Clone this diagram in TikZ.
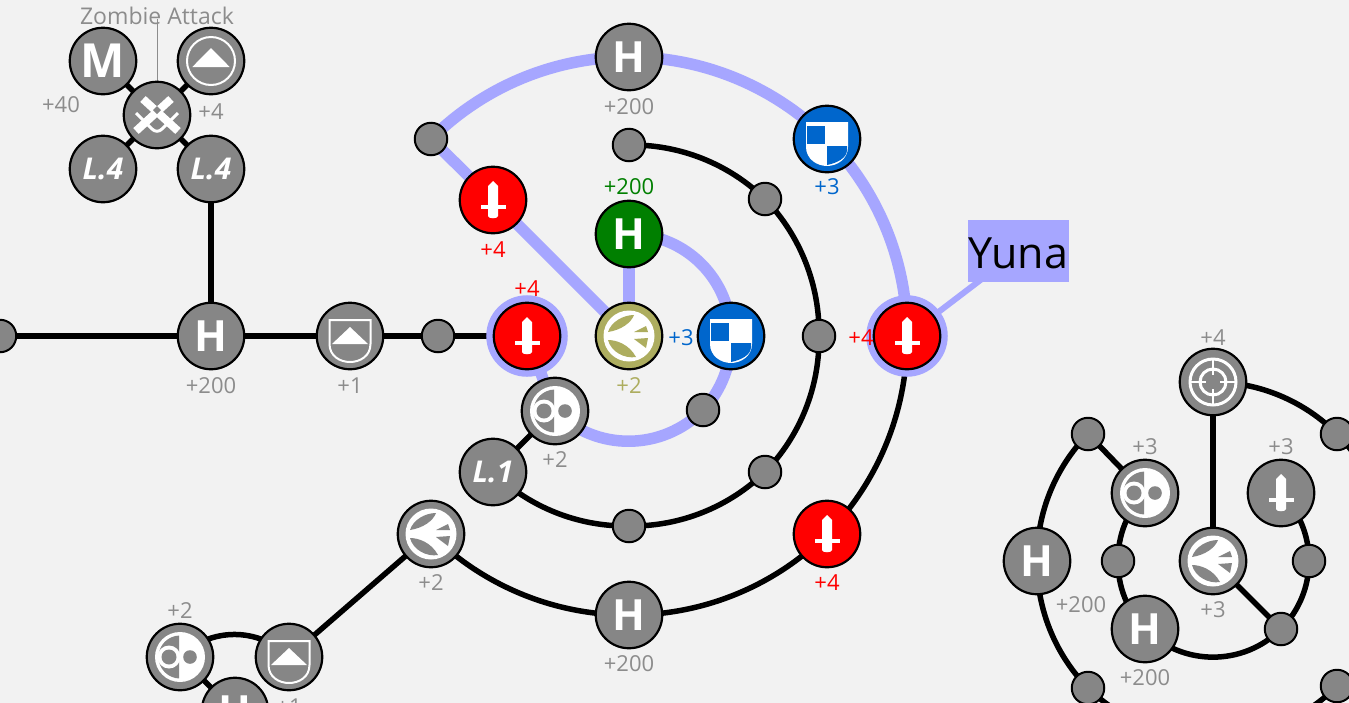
\documentclass[tikz,border=0pt]{standalone}
\usepackage{fontspec}
\setmainfont{Open Sans}
\usetikzlibrary{backgrounds}
\definecolor{bgc}{HTML}{F2F2F2}
\definecolor{nodeg}{HTML}{868686}
\definecolor{halo}{HTML}{A6A6FF}
\definecolor{cred}{HTML}{FF0000}
\definecolor{cgreen}{HTML}{007F00}
\definecolor{colive}{HTML}{ADAD5F}
\definecolor{cblue}{HTML}{0066CC}
\definecolor{lgray}{HTML}{8C8C8C}
\tikzset{
  big/.style={circle,draw=black,line width=2.2pt,fill=nodeg,inner sep=0pt,outer sep=0pt,minimum size=66.5pt,text=white},
  tiny/.style={circle,draw=black,line width=2pt,fill=nodeg,inner sep=0pt,outer sep=0pt,minimum size=32.5pt},
  ringed/.style={preaction={draw=halo,line width=15pt}},
  lab/.style={inner sep=0pt,font=\fontsize{22}{24}\selectfont,text=lgray},
  letter/.style={font=\fontsize{43}{43}\selectfont\bfseries},
  lev/.style={font=\fontsize{30}{30}\selectfont\bfseries\itshape},
  conn/.style={line width=5.5pt,draw=black},
  path2/.style={line width=11.5pt,draw=halo},
  q45/.style={bend left=22.5,looseness=.885},
  q90/.style={bend left=45},
  pics/sword/.style={code={
    \fill[white] (-5,-14) -- (0,-19) -- (5,-14) -- (5,16) .. controls (5,19) and (-5,19) .. (-5,16) -- cycle;
    \fill[white] (-12.5,5) rectangle (12.5,9);
  }},
  pics/quart/.style={code={
    \fill[white] (-21,-17) -- (21,-17) -- (21,8) .. controls (21,20) and (10,27) .. (0,27) .. controls (-10,27) and (-21,20) .. (-21,8) -- cycle;
    \fill[cblue] (-20,-13) rectangle (-2,5);
    \fill[cblue] (0,7) -- (20,7) -- (20,11) .. controls (20,19) and (10,24) .. (0,26) -- cycle;
  }},
  pics/shieldup/.style={code={
    \draw[white,line width=2pt] (-20.5,-16) -- (20.5,-16) -- (20.5,8) .. controls (20.5,20) and (10,26) .. (0,26) .. controls (-10,26) and (-20.5,20) .. (-20.5,8) -- cycle;
    \fill[white] (0,-9) -- (18,8) -- (-18,8) -- cycle;
  }},
  pics/ringup/.style={code={
    \draw[white,line width=2pt] (0,0) circle[radius=24];
    \fill[white] (0,-13) -- (18.7,6) -- (-18.7,6) -- cycle;
  }},
  pics/xswords/.style={code={
    \draw[white,line width=8pt] (-14,-16) -- (21,16);
    \draw[white,line width=8pt] (14,-16) -- (-21,16);
    \draw[white,line width=3pt] (-21,-2) -- (-5,14) .. controls (-2,17) and (2,17) .. (5,14) -- (21,-2);
    \fill[nodeg] (0,-9) -- (4,-5) -- (0,-1) -- (-4,-5) -- cycle;
    \fill[nodeg] (0,3) -- (4,7) -- (0,11) -- (-4,7) -- cycle;
  }},
  pics/swirl/.style={code={
    \fill[white] (0,0) circle[radius=25];
    \begin{scope}
      \clip (-30,-30) rectangle (-1,30);
      \fill[nodeg] (0,0) circle[radius=21.5];
    \end{scope}
    \fill[white] (-11,0) circle[radius=11.5];
    \fill[nodeg] (-11,0) circle[radius=7.5];
    \fill[nodeg] (10,0) circle[radius=6.8];
  }},
  pics/feather/.style={code={
    \fill[white] (0,0) circle[radius=25.5];
    \fill[#1] (-21,-4) .. controls (-18,-14) and (-6,-21) .. (5,-21) .. controls (2,-13) and (-8,-6) .. cycle;
    \fill[#1] (-21,4) .. controls (-13,4) and (0,8) .. (7,21) .. controls (-4,23) and (-18,16) .. cycle;
    \fill[#1] (5,-4) -- (17,-10) -- (19,-4) -- cycle;
    \fill[#1] (5,3) -- (19,2) -- (17,12) -- cycle;
  }},
  pics/target/.style={code={
    \draw[white,line width=3pt] (0,0) circle[radius=23];
    \draw[white,line width=3pt] (0,0) circle[radius=13];
    \draw[white,line width=2pt] (0,-24) -- (0,-7) (0,7) -- (0,24) (-24,0) -- (-7,0) (7,0) -- (24,0);
  }}
}
\begin{document}
\begin{tikzpicture}[x=1pt,y=-1pt]
\useasboundingbox (0,0) rectangle (1349,702);

% --- top-left cluster
\node[big,font=\fontsize{47}{47}\selectfont\bfseries] (m) at (103,61) {M};
\node[big] (ru) at (211,61) {};
\node[big] (xs) at (157,115) {};
\node[big,lev] (l4a) at (103,169) {L.4};
\node[big,lev] (l4b) at (211,169) {L.4};
\node[lab,font=\fontsize{23}{25}\selectfont] (zt) at (157,16) {Zombie Attack};
\coordinate (ztip) at (157,19);
\node[lab] (t40) at (61,105) {+40};
\node[lab] (t4a) at (211,112) {+4};

% --- main row
\node[tiny] (s0) at (0,336) {};
\node[big,letter] (h1) at (211,336) {H};
\node[big] (su1) at (350,336) {};
\node[tiny] (s1) at (438,336) {};
\node[big,fill=cred,ringed] (r1) at (527,336) {};
\node[big,fill=colive] (ol) at (629,336) {};
\node[big,fill=cblue] (b1) at (731,336) {};
\node[big,letter,fill=cgreen] (hg) at (629,234) {H};
\node[big,fill=cred] (r2) at (493,200) {};
\node[tiny] (s2) at (431,139) {};
\node[big,letter] (h2) at (629,57) {H};
\node[big,fill=cblue] (b2) at (827,139) {};
\node[big,fill=cred,ringed] (r3) at (907,336) {};
\node[fill=halo,inner sep=0pt,minimum width=101pt,minimum height=62pt,text height=34pt,text depth=0pt,font=\fontsize{43}{43}\selectfont] (yuna) at (1018.5,251) {Yuna};

% --- black ring
\node[tiny] (a1) at (629,145) {};
\node[tiny] (a2) at (765,199) {};
\node[tiny] (a3) at (819,336) {};
\node[tiny] (a4) at (765,472) {};
\node[tiny] (a5) at (629,526) {};
\node[big,lev] (l1) at (493,472) {L.1};
\node[big] (sw1) at (555,411) {};
\node[tiny] (a6) at (703,410) {};

% --- outer lower ring
\node[big,fill=cred] (r4) at (827,534) {};
\node[big,letter] (h3) at (629,615) {H};
\node[big] (fe1) at (431,534) {};
\node[big] (su2) at (289,657) {};
\node[big] (sw2) at (180,657) {};
\node[big,letter] (h4) at (235,711) {H};

% --- right cluster
\node[big] (tg) at (1213,382) {};
\node[tiny] (c1) at (1337,434) {};
\node[tiny] (c2) at (1088,434) {};
\node[big] (sw3) at (1145,493) {};
\node[big] (sd) at (1281,493) {};
\node[big,letter] (h5) at (1037,561) {H};
\node[tiny] (c3) at (1118,561) {};
\node[big] (fe2) at (1213,561) {};
\node[tiny] (c4) at (1309,561) {};
\node[big,letter] (h6) at (1145,629) {H};
\node[tiny] (c5) at (1281,629) {};
\node[tiny] (c6) at (1088,688) {};
\node[tiny] (c7) at (1337,686) {};
\coordinate (offR) at (1389,561);
\coordinate (offB) at (1213,738);

% --- icons
\pic at (ru) {ringup};
\pic at (xs) {xswords};
\pic at (su1) {shieldup};
\pic at (su2) {shieldup};
\pic at (r1) {sword};
\pic at (r2) {sword};
\pic at (r3) {sword};
\pic at (r4) {sword};
\pic at (sd) {sword};
\pic at (b1) {quart};
\pic at (b2) {quart};
\pic at (ol) {feather=colive};
\pic at (fe1) {feather=nodeg};
\pic at (fe2) {feather=nodeg};
\pic at (sw1) {swirl};
\pic at (sw2) {swirl};
\pic at (sw3) {swirl};
\pic at (tg) {target};

% --- value labels
\node[lab] (t1) at (211,386) {+200};
\node[lab] (t2) at (350,386) {+1};
\node[lab,text=cred] (t3) at (527,289) {+4};
\node[lab,text=colive] (t4) at (629,386) {+2};
\node[lab,text=cblue] (t5) at (681,338) {+3};
\node[lab,text=cgreen] (t6) at (629,187) {+200};
\node[lab,text=cred] (t7) at (493,250) {+4};
\node[lab] (t8) at (629,107) {+200};
\node[lab,text=cblue] (t9) at (827,187) {+3};
\node[lab,text=cred] (t10) at (861,338) {+4};
\node[lab] (t11) at (555,460) {+2};
\node[lab,text=cred] (t12) at (827,583) {+4};
\node[lab] (t13) at (629,664) {+200};
\node[lab] (t14) at (431,583) {+2};
\node[lab] (t15) at (289,707) {+1};
\node[lab] (t16) at (180,611) {+2};
\node[lab] (t17) at (1213,338) {+4};
\node[lab] (t18) at (1145,447) {+3};
\node[lab] (t19) at (1281,447) {+3};
\node[lab] (t20) at (1081,605) {+200};
\node[lab] (t21) at (1213,610) {+3};
\node[lab] (t22) at (1145,678) {+200};

\begin{scope}[on background layer]
  \fill[bgc] (-30,-30) rectangle (1400,760);
  % label leader
  \draw[lgray,line width=1pt] (ztip) -- (xs.center);
  \draw[halo,line width=6pt] (r3.center) -- (yuna.center);
  % blue path
  \draw[path2] (s2.center) to[q45] (h2.center);
  \draw[path2] (h2.center) to[q45] (b2.center);
  \draw[path2] (b2.center) to[q45] (r3.center);
  \draw[path2] (s2.center) -- (r2.center);
  \draw[path2] (r2.center) -- (ol.center);
  \draw[path2] (ol.center) -- (hg.center);
  \draw[path2] (hg.center) to[q90] (b1.center);
  \draw[path2] (b1.center) to[q45] (a6.center);
  \draw[path2] (a6.center) to[q90] (sw1.center);
  \draw[path2] (r1.center) -- (sw1.center);
  % black connectors
  \draw[conn] (s0.center) -- (h1.center);
  \draw[conn] (h1.center) -- (su1.center);
  \draw[conn] (su1.center) -- (s1.center);
  \draw[conn] (s1.center) -- (r1.center);
  \draw[conn] (h1.center) -- (l4b.center);
  \draw[conn] (xs.center) -- (m.center);
  \draw[conn] (xs.center) -- (ru.center);
  \draw[conn] (xs.center) -- (l4a.center);
  \draw[conn] (xs.center) -- (l4b.center);
  \draw[conn] (a1.center) to[q45] (a2.center);
  \draw[conn] (a2.center) to[q45] (a3.center);
  \draw[conn] (a3.center) to[q45] (a4.center);
  \draw[conn] (a4.center) to[q45] (a5.center);
  \draw[conn] (a5.center) to[q45] (l1.center);
  \draw[conn] (l1.center) -- (sw1.center);
  \draw[conn] (r3.center) to[q45] (r4.center);
  \draw[conn] (r4.center) to[q45] (h3.center);
  \draw[conn] (h3.center) to[q45] (fe1.center);
  \draw[conn] (fe1.center) -- (su2.center);
  \draw[conn] (sw2.center) to[q90] (su2.center);
  \draw[conn] (sw2.center) -- (h4.center);
  \draw[conn] (tg.center) to[q45] (c1.center);
  \draw[conn] (c1.center) to[q45] (offR);
  \draw[conn] (tg.center) -- (fe2.center);
  \draw[conn] (c7.center) to[q45] (offB);
  \draw[conn] (offB) to[q45] (c6.center);
  \draw[conn] (c6.center) to[q45] (h5.center);
  \draw[conn] (h5.center) to[q45] (c2.center);
  \draw[conn] (c2.center) -- (sw3.center);
  \draw[conn] (sw3.center) to[bend right=22.5,looseness=.885] (c3.center);
  \draw[conn] (c3.center) to[bend right=22.5,looseness=.885] (h6.center);
  \draw[conn] (h6.center) to[bend right=45] (c5.center);
  \draw[conn] (c5.center) to[bend right=22.5,looseness=.885] (c4.center);
  \draw[conn] (c4.center) to[bend right=22.5,looseness=.885] (sd.center);
  \draw[conn] (fe2.center) -- (c5.center);
\end{scope}
\end{tikzpicture}
\end{document}
